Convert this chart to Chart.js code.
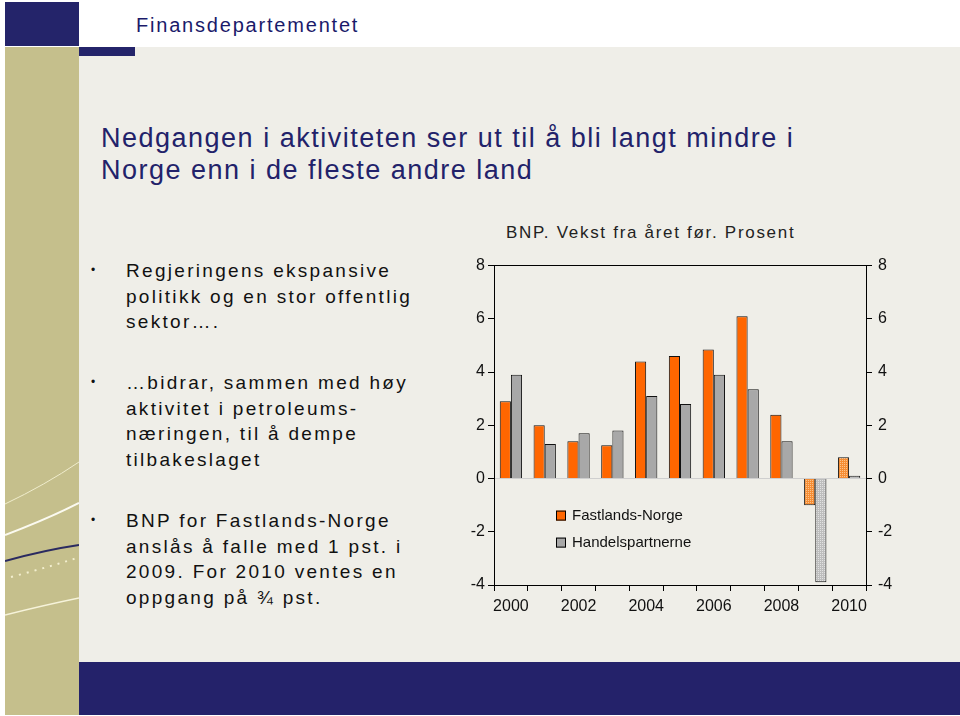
<!DOCTYPE html>
<html lang="no">
<head>
<meta charset="utf-8">
<title>Finansdepartementet</title>
<script src="https://cdn.jsdelivr.net/npm/chart.js@4.4.0/dist/chart.umd.min.js"></script>
<style>
  html, body { margin: 0; padding: 0; }
  body {
    width: 960px; height: 716px; position: relative; overflow: hidden;
    background: #ffffff; font-family: "Liberation Sans", Arial, sans-serif;
  }
  .block { position: absolute; }
  #brand {
    position: absolute; left: 136px; top: 14px; font-size: 20px;
    letter-spacing: 1.8px; color: #1a1a6a;
  }
  #heading {
    position: absolute; left: 101px; top: 122px; font-size: 27px;
    line-height: 32px; letter-spacing: 1.5px; color: #22226a;
  }
  .bullet {
    position: absolute; left: 126px; font-size: 19px; line-height: 25.5px;
    letter-spacing: 2.3px; color: #111;
  }
  .bullet::before {
    content: "•"; position: absolute; left: -35px; top: 0; font-size: 12px;
  }
  #chartTitle {
    position: absolute; left: 506px; top: 223px; font-size: 17px;
    letter-spacing: 1.7px; color: #222;
  }
  #chartBox { position: absolute; left: 440px; top: 250px; width: 470px; height: 375px; }
</style>
</head>
<body>
<div class="block" style="left:5px;top:2px;width:74px;height:44px;background:#24246a"></div>
<div class="block" style="left:79px;top:47px;width:881px;height:615px;background:#efeee8"></div>
<div class="block" style="left:5px;top:47px;width:74px;height:668px;background:#c5bf8c"></div>
<div class="block" style="left:79px;top:47px;width:56px;height:9px;background:#24246a"></div>
<div class="block" style="left:79px;top:662px;width:881px;height:53px;background:#24226a"></div>
<svg class="block" style="left:5px;top:440px" width="74" height="180">
  <path d="M0 64 Q40 45 74 22" stroke="#efeccc" stroke-width="1" fill="none"/>
  <path d="M0 95 Q40 80 74 63" stroke="#fbfaf0" stroke-width="2" fill="none"/>
  <path d="M0 121 Q40 110 74 105" stroke="#2a2a60" stroke-width="2" fill="none"/>
  <path d="M6 137 Q40 128 72 118" stroke="#f3efcf" stroke-width="2" stroke-dasharray="2 6" fill="none"/>
  <path d="M0 175 Q40 165 74 158" stroke="#f6f3da" stroke-width="1.5" fill="none"/>
</svg>

<div id="brand">Finansdepartementet</div>
<div id="heading">Nedgangen i aktiviteten ser ut til å bli langt mindre i<br>Norge enn i de fleste andre land</div>

<div class="bullet" style="top:258px">Regjeringens ekspansive<br>politikk og en stor offentlig<br>sektor….</div>
<div class="bullet" style="top:370px">…bidrar, sammen med høy<br>aktivitet i petroleums-<br>næringen, til å dempe<br>tilbakeslaget</div>
<div class="bullet" style="top:508px">BNP for Fastlands-Norge<br>anslås å falle med 1 pst. i<br>2009. For 2010 ventes en<br>oppgang på ¾ pst.</div>

<div id="chartTitle">BNP. Vekst fra året før. Prosent</div>
<div id="chartBox"><canvas id="bnpChart"></canvas></div>

<script>
// BNP growth, percent
const years = ['2000', '2001', '2002', '2003', '2004', '2005', '2006', '2007', '2008', '2009', '2010'];
const fastlandsNorge = [2.9, 2.0, 1.4, 1.25, 4.4, 4.6, 4.85, 6.1, 2.4, -1.0, 0.8];
const handelspartnerne = [3.9, 1.3, 1.7, 1.8, 3.1, 2.8, 3.9, 3.35, 1.4, -3.9, 0.1];
const forecastYears = ['2009', '2010'];
const yTicks = [-4, -2, 0, 2, 4, 6, 8];

function makePattern(base, dot) {
  const c = document.createElement('canvas');
  c.width = 4;
  c.height = 4;
  const g = c.getContext('2d');
  g.fillStyle = base;
  g.fillRect(0, 0, 4, 4);
  g.fillStyle = dot;
  g.fillRect(0, 0, 1, 1);
  g.fillRect(2, 2, 1, 1);
  g.fillRect(2, 0, 1, 1);
  g.fillRect(0, 2, 1, 1);
  return g.createPattern(c, 'repeat');
}

const orangePattern = makePattern('#f68d34', '#fcc48c');
const greyPattern = makePattern('#bdbdbd', '#e2e2e2');

function fills(solid, pattern) {
  return years.map(y => forecastYears.includes(y) ? pattern : solid);
}

// simple legend drawn inside the plot area
const innerLegend = {
  id: 'innerLegend',
  afterDraw(chart) {
    const { ctx, chartArea } = chart;
    ctx.save();
    ctx.font = '15px "Liberation Sans", Arial, sans-serif';
    ctx.textBaseline = 'middle';
    chart.data.datasets.forEach((ds, i) => {
      const x = chartArea.left + 62;
      const y = chartArea.top + 250 + i * 27;
      ctx.fillStyle = ds.legendColor;
      ctx.fillRect(x, y - 5, 10, 10);
      ctx.strokeStyle = '#000';
      ctx.lineWidth = 1;
      ctx.strokeRect(x + 0.5, y - 4.5, 9, 9);
      ctx.fillStyle = '#111';
      ctx.fillText(ds.label, x + 16, y);
    });
    ctx.restore();
  }
};

const tickFont = { size: 16, family: '"Liberation Sans", Arial, sans-serif' };

const yAxisBase = {
  min: -4,
  max: 8,
  afterBuildTicks: axis => { axis.ticks = yTicks.map(v => ({ value: v })); },
  border: { display: true, color: '#000', width: 1 },
  ticks: { color: '#111', font: tickFont, padding: 3 }
};

new Chart(document.getElementById('bnpChart'), {
  type: 'bar',
  data: {
    labels: years,
    datasets: [
      {
        label: 'Fastlands-Norge',
        data: fastlandsNorge,
        backgroundColor: fills('#ff6600', orangePattern),
        legendColor: '#ff6600',
        borderColor: '#111',
        borderWidth: 1,
        yAxisID: 'y'
      },
      {
        label: 'Handelspartnerne',
        data: handelspartnerne,
        backgroundColor: fills('#a8a8a8', greyPattern),
        legendColor: '#a8a8a8',
        borderColor: '#111',
        borderWidth: 1,
        yAxisID: 'y'
      }
    ]
  },
  options: {
    responsive: true,
    maintainAspectRatio: false,
    animation: false,
    layout: { padding: { top: 12, left: 0, right: 0, bottom: 0 } },
    datasets: { bar: { categoryPercentage: 0.66, barPercentage: 1.0 } },
    plugins: {
      legend: { display: false },
      tooltip: { enabled: false }
    },
    scales: {
      x: {
        grid: { display: true, offset: true, drawOnChartArea: false, color: '#000', tickLength: 6 },
        border: { display: true, color: '#000', width: 1 },
        ticks: {
          color: '#111',
          font: tickFont,
          maxRotation: 0,
          autoSkip: false,
          padding: 6,
          callback: function (value, index) { return index % 2 === 0 ? this.getLabelForValue(value) : ''; }
        },
        afterFit: axis => { axis.height = 40; }
      },
      y: {
        ...yAxisBase,
        position: 'left',
        afterFit: axis => { axis.width = 54; },
        grid: {
          color: ctx => ctx.tick && ctx.tick.value === 0 ? '#cfcfcf' : (ctx.tick && ctx.tick.value === 8 ? '#000' : 'rgba(0,0,0,0)'),
          tickColor: '#000',
          tickLength: 6,
          lineWidth: 1
        }
      },
      y2: {
        ...yAxisBase,
        position: 'right',
        afterFit: axis => { axis.width = 44; },
        ticks: { ...yAxisBase.ticks, padding: 6 },
        grid: { drawOnChartArea: false, color: '#000', tickLength: 6 }
      }
    }
  },
  plugins: [innerLegend]
});
</script>
</body>
</html>
